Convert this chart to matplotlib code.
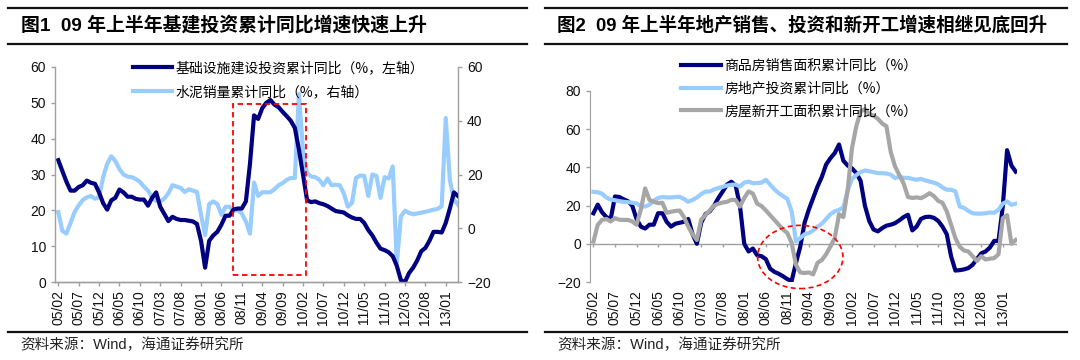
import matplotlib
matplotlib.use("Agg")
import matplotlib.pyplot as plt
from matplotlib.lines import Line2D
from matplotlib.patches import Rectangle, Ellipse

plt.rcParams['font.family'] = ['Liberation Sans', 'Noto Sans CJK SC', 'DejaVu Sans']
CJK = ['Noto Sans CJK SC', 'DejaVu Sans']
MIX = ['Liberation Sans', 'Noto Sans CJK SC', 'DejaVu Sans']

# ---------------- data ----------------
tick_labels = ['05/02', '05/07', '05/12', '06/05', '06/10', '07/03', '07/08', '08/01', '08/06',
               '08/11', '09/04', '09/09', '10/02', '10/07', '10/12', '11/05', '11/10', '12/03',
               '12/08', '13/01']

# Fig 1: infrastructure investment cumulative YoY (%, left axis), monthly from 05/02
infra_inv = [34, 31, 28, 25.5, 25.5, 26.5, 27, 28.3, 27.7, 27.4,
             25, 22, 20.2, 22.8, 23.5, 25.8, 25, 23.8, 23.8, 23.2,
             23, 23, 21.3, 23.5, 25, 21, 19, 17, 18.2, 17.6,
             17.3, 17.3, 17.1, 16.9, 16.2, 11.5, 4, 11.5, 13, 14,
             16, 18.5, 18.5, 20.3, 20.5, 20.5, 22.5, 33, 46.5, 45.5,
             48.5, 50, 50.8, 49.5, 48.8, 47.5, 46.3, 45, 43, 37,
             30, 22.8, 22.3, 22.5, 22, 21.7, 21.2, 20.5, 19.8, 19.6,
             19.4, 18.6, 18, 17.6, 17.6, 16.5, 14.5, 13, 11, 9.3,
             8.9, 8.3, 7.2, 4.5, 0.5, 0, 2.5, 4, 6, 8.6,
             9.5, 11.5, 14, 14, 13.8, 16.5, 20.5, 25, 24]
# Fig 1: cement sales cumulative YoY (%, right axis)
cement = [6, -1, -2, 2, 6, 8.5, 10.5, 11.5, 12, 11,
          11.5, 19, 24, 26.8, 25, 22, 20, 19.2, 19, 18.3,
          17.3, 15.5, 14, 11.5, 10.2, 10, 11, 13, 16, 15.5,
          15, 13.5, 14.5, 14, 13.5, 5, -2.5, 9, 10, 9,
          5, 8, 8, 6.5, 6.8, 5.5, 2.5, -2, 17, 12,
          13.4, 13.4, 13.4, 14.5, 16, 16.8, 18, 18.7, 18.7, 50,
          29, 20.5, 19.3, 19, 18, 16, 18.5, 16, 16.2, 16,
          13, 8, 9.5, 18.7, 19.6, 19.5, 12, 20, 19.5, 11.3,
          19, 18.5, 23, -13, 4.4, 6.5, 5.7, 5.2, 5.5, 5.8,
          6.1, 6.5, 6.9, 7.2, 8.2, 41, 18, 10.6, 8.8]

# Fig 2: commodity housing sales area cumulative YoY (%)
sales_area = [16, 20.5, 16.5, 14, 13, 24.8, 24.5, 23.3, 22.3, 20,
              13, 9, 8, 10, 10, 16, 16, 11.5, 9, 10.5,
              11, 11.5, 13, 5, 0, 11, 15.5, 17, 20, 24,
              27.4, 31, 32.5, 30.5, 20, 0, -4, -2.5, -6, -6.5,
              -8, -13, -14.7, -15.7, -17, -18.5, -19.5, -10, -1.5, 11,
              18, 24, 30, 35, 41.5, 44.8, 47.5, 52, 43.5, 41,
              39.5, 37, 33, 20, 12, 7.5, 6.5, 8.2, 9.5, 10,
              10.8, 12.3, 14, 15.2, 7, 9, 13, 14, 14.2, 13.6,
              12, 9, 5, -6.5, -14, -13.8, -13.4, -12.7, -11, -8,
              -5, -4, -2, 1.5, 1.5, 19.5, 49, 41, 37.8]
# Fig 2: real estate investment cumulative YoY (%)
re_inv = [27.2, 27, 26.2, 24.2, 23.2, 22.8, 22.3, 22, 21.8, 21.5,
          21.2, 19.6, 19.5, 20.5, 22.5, 24, 24.5, 24.3, 24.3, 24.5,
          24.6, 23.5, 22, 23, 24.2, 26, 27.3, 27.4, 28.5, 29.2,
          29.8, 30.5, 30.9, 31, 30, 32, 32.6, 31.7, 31.8, 32,
          33.5, 31, 28.5, 26.5, 25, 23.5, 17, 1.2, 3, 5,
          5.6, 7, 9, 10.5, 13, 15.5, 17, 17.8, 19, 28,
          34, 36, 37.5, 38.4, 38, 37.5, 37, 37, 36.8, 36.2,
          34.4, 35.2, 34.5, 34.5, 34, 33.5, 34, 33.2, 32.6, 32,
          31.2, 29.5, 28.3, 28.3, 27.5, 19.5, 18.8, 17.2, 16, 15.8,
          15.8, 16, 16.4, 16.2, 17.8, 21, 22.2, 20.4, 21]
# Fig 2: new construction area cumulative YoY (%)
new_start = [1.2, 10, 12.5, 13, 11.7, 13.4, 12.6, 12.5, 12.5, 11.7,
             10, 18, 29, 23, 22, 21.3, 21.5, 16.2, 16.8, 17.2,
             17.4, 14, 9, 5, 2, 12.6, 15, 17.5, 20, 21,
             21.6, 22, 23, 23, 19.5, 24, 27.4, 26.3, 21, 19.8,
             17.5, 15, 12.5, 10, 7.5, 5.6, 0.5, -11, -15, -15.3,
             -15, -16, -10, -8.5, -5.5, -1.4, 3, 15.5, 14, 28,
             50, 61.5, 69.3, 70.5, 68, 67, 65.5, 63, 61.5, 48,
             40.5, 36, 31.5, 24.5, 24, 24.3, 23.9, 25, 26.5, 25,
             22.5, 21.5, 17, 10, 3, -1.5, -3.5, -4, -6.5, -9,
             -6.5, -8.2, -7.8, -7.5, -5.5, 13.4, 15, 0, 2]

NAVY = '#000080'
LBLUE = '#99CCFF'
GRAY = '#A6A6A6'
AXC = '#A0A0A0'
RED = '#FF0000'

x1 = list(range(len(infra_inv)))
x2 = list(range(len(sales_area)))
tpos = list(range(0, 5 * len(tick_labels), 5))

fig = plt.figure(figsize=(10.8, 3.6), dpi=100)

def fx(px):
    return px / 1080.0

def fy(py):
    return 1 - py / 360.0

TS = 10  # tick label size

# ---------------- header / footer decoration ----------------
for (xa, xb) in [(8, 527), (545, 1067)]:
    for yy in [7.5, 43.5, 332]:
        fig.add_artist(Line2D([fx(xa), fx(xb)], [fy(yy), fy(yy)], color='#111111', lw=1.6))

fig.text(fx(21), fy(25.5), '图1  09 年上半年基建投资累计同比增速快速上升', family=MIX,
         fontsize=13.6, fontweight='bold', va='center', ha='left')
fig.text(fx(557), fy(25.5), '图2  09 年上半年地产销售、投资和新开工增速相继见底回升', family=MIX,
         fontsize=13.3, fontweight='bold', va='center', ha='left')
fig.text(fx(20), fy(345), '资料来源：Wind，海通证券研究所', family=MIX, fontsize=10.5,
         va='center', ha='left', color='#222222')
fig.text(fx(557), fy(345), '资料来源：Wind，海通证券研究所', family=MIX, fontsize=10.5,
         va='center', ha='left', color='#222222')

# ---------------- Figure 1 ----------------
ax1 = fig.add_axes([fx(55), fy(282), fx(403), (282 - 67) / 360.0])
ax1r = ax1.twinx()

l1, = ax1.plot(x1, infra_inv, color=NAVY, lw=3.0, solid_joinstyle='round',
               label='基础设施建设投资累计同比（%，左轴）')
l2, = ax1r.plot(x1, cement, color=LBLUE, lw=3.0, solid_joinstyle='round',
                label='水泥销量累计同比（%，右轴）')
ax1.set_zorder(ax1r.get_zorder() + 1)
ax1.patch.set_visible(False)

ax1.set_xlim(-0.8, 98.0)
ax1.set_ylim(0, 60)
ax1r.set_ylim(-20, 60)
ax1.set_yticks(range(0, 61, 10))
ax1r.set_yticks(range(-20, 61, 20))
ax1.set_xticks(tpos)
ax1.set_xticklabels(tick_labels, rotation=90)

for a in (ax1, ax1r):
    for s in a.spines.values():
        s.set_color(AXC)
        s.set_linewidth(1.0)
    a.spines['top'].set_visible(False)
    a.tick_params(colors=AXC, labelcolor='#111111', labelsize=TS, length=3, width=1.0)
ax1.spines['right'].set_visible(False)
ax1r.spines['left'].set_visible(False)
ax1.tick_params(axis='x', pad=3)

# red dashed box
ax1.add_patch(Rectangle((42.8, 2.0), 18.0, 47.7, fill=False, ec=RED, lw=1.3,
                        ls=(0, (3, 2)), zorder=5, clip_on=False))

leg1 = fig.legend(handles=[l1, l2], loc='upper left', bbox_to_anchor=(fx(133), fy(61)),
                  frameon=False, prop={'family': CJK, 'size': 10}, handlelength=2.8,
                  handletextpad=0.25, labelspacing=0.72, borderpad=0, borderaxespad=0)

# ---------------- Figure 2 ----------------
ax2 = fig.add_axes([fx(590), fy(282), fx(1017 - 590), (282 - 91) / 360.0])
m1, = ax2.plot(x2, sales_area, color=NAVY, lw=3.0, solid_joinstyle='round',
               label='商品房销售面积累计同比（%）')
m2, = ax2.plot(x2, re_inv, color=LBLUE, lw=3.0, solid_joinstyle='round',
               label='房地产投资累计同比（%）')
m3, = ax2.plot(x2, new_start, color=GRAY, lw=3.0, solid_joinstyle='round',
               label='房屋新开工面积累计同比（%）')
ax2.set_xlim(-0.8, 98.3)
ax2.set_ylim(-20, 80)
ax2.set_yticks(range(-20, 81, 20))
ax2.set_xticks(tpos)
ax2.set_xticklabels(tick_labels, rotation=90)
for s in ['top', 'right', 'bottom']:
    ax2.spines[s].set_visible(False)
ax2.spines['left'].set_color(AXC)
ax2.tick_params(axis='y', colors=AXC, labelcolor='#111111', labelsize=TS, length=3, width=1.0)
ax2.tick_params(axis='x', length=0, labelsize=TS, labelcolor='#111111', pad=6)
ax2.axhline(0, color=AXC, lw=1.0, zorder=1)
ax2.vlines(tpos, -1.6, 0, color=AXC, lw=1.0, zorder=1)

ax2.add_patch(Ellipse((48, -6.9), 19.8, 33.1, fill=False, ec=RED, lw=1.2,
                      ls=(0, (3, 2)), zorder=5, clip_on=False))

leg2 = fig.legend(handles=[m1, m2, m3], loc='upper left', bbox_to_anchor=(fx(681), fy(59)),
                  frameon=False, prop={'family': CJK, 'size': 10}, handlelength=2.9,
                  handletextpad=0.2, labelspacing=0.62, borderpad=0, borderaxespad=0)

fig.savefig('out.png', dpi=100)
